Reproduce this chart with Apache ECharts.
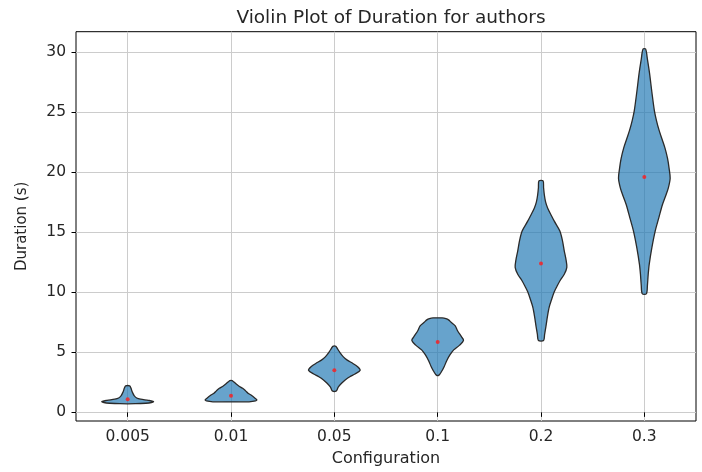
<!DOCTYPE html>
<html><head><meta charset="utf-8">
<script src="https://cdn.jsdelivr.net/npm/echarts@6/dist/echarts.min.js"></script>
<style>html,body{margin:0;padding:0;background:#fff}#c{width:702px;height:472px}</style>
</head><body><div id="c"></div>
<script>
const categories = ['0.005', '0.01', '0.05', '0.1', '0.2', '0.3'];
const medians = [1.1, 1.38, 3.5, 5.85, 12.4, 19.6];
const yTicks = [0, 5, 10, 15, 20, 25, 30];
// density profiles: [duration, relative half-width]
const profile0005 = [[0.72,0.3],[0.76,0.7],[0.82,0.92],[0.9,1.0],[1.0,0.8],[1.1,0.5],[1.2,0.35],[1.4,0.25],[1.6,0.2],[1.8,0.16],[2.0,0.13],[2.2,0.08]];
const profile001 = [[0.88,0.7],[0.95,0.95],[1.05,1.0],[1.2,0.92],[1.4,0.8],[1.6,0.66],[1.8,0.56],[2.0,0.45],[2.2,0.3],[2.4,0.18],[2.55,0.1],[2.65,0.04]];
const profile005 = [[1.79,0.08],[2.1,0.15],[2.42,0.28],[2.7,0.42],[2.97,0.6],[3.2,0.8],[3.5,1.0],[3.8,0.9],[4.07,0.72],[4.35,0.5],[4.62,0.35],[5.03,0.2],[5.3,0.12],[5.5,0.06]];
const profile01 = [[3.1,0.05],[3.4,0.15],[3.8,0.25],[4.3,0.35],[4.8,0.48],[5.2,0.62],[5.6,0.85],[6.0,1.0],[6.3,0.92],[6.8,0.77],[7.2,0.68],[7.5,0.52],[7.7,0.42],[7.8,0.32],[7.86,0.18]];
const profile02 = [[5.99,0.1],[6.5,0.14],[7.14,0.19],[8.0,0.25],[8.78,0.32],[9.4,0.41],[10.02,0.51],[10.5,0.62],[10.98,0.74],[11.5,0.9],[12.08,1.0],[12.7,0.97],[13.45,0.9],[14.3,0.83],[15.1,0.73],[15.9,0.52],[16.4,0.4],[17.0,0.26],[17.5,0.18],[18.1,0.13],[18.7,0.1],[19.27,0.08]];
const profile03 = [[9.88,0.08],[10.6,0.12],[11.5,0.15],[12.35,0.19],[13.7,0.29],[15.1,0.42],[16.2,0.56],[17.29,0.7],[18.0,0.82],[18.7,0.93],[19.49,1.0],[20.3,0.96],[21.13,0.9],[22.0,0.8],[22.78,0.68],[23.5,0.57],[24.3,0.47],[25.11,0.39],[26.7,0.29],[28.27,0.2],[29.4,0.12],[30.25,0.05]];
const profiles = [profile0005, profile001, profile005, profile01, profile02, profile03];

const positions = categories.map((c, i) => i + 1);
const HALF = 0.25;

const chart = echarts.init(document.getElementById('c'));
const textColor = '#262626';
chart.setOption({
  animation: false,
  title: {
    text: 'Violin Plot of Duration for authors',
    left: 386, top: 4, textAlign: 'center',
    textStyle: {fontFamily: 'DejaVu Sans', fontSize: 18.5, fontWeight: 'normal', color: textColor}
  },
  grid: {left: 76, right: 6, top: 31.7, bottom: 46.5, show: true, borderColor: '#000', borderWidth: 1, backgroundColor: 'transparent'},
  xAxis: {
    type: 'value', min: 0.5, max: 6.5,
    name: 'Configuration', nameLocation: 'middle', nameGap: 30,
    nameTextStyle: {fontFamily: 'DejaVu Sans', fontSize: 16, color: textColor},
    axisLine: {show: false},
    axisTick: {show: true, customValues: positions, length: 4.5, lineStyle: {color: '#000'}},
    axisLabel: {customValues: positions, margin: 8, fontFamily: 'DejaVu Sans', fontSize: 15.5, color: textColor,
      formatter: v => categories[Math.round(v) - 1] || ''},
    splitLine: {show: true, lineStyle: {color: '#cccccc', width: 1}}
  },
  yAxis: {
    type: 'value', min: -0.72, max: 31.7,
    name: 'Duration (s)', nameLocation: 'middle', nameGap: 46,
    nameTextStyle: {fontFamily: 'DejaVu Sans', fontSize: 15, color: textColor},
    axisLine: {show: false},
    axisTick: {show: true, customValues: yTicks, length: 4.5, lineStyle: {color: '#000'}},
    axisLabel: {customValues: yTicks, margin: 10, fontFamily: 'DejaVu Sans', fontSize: 15.5, color: textColor},
    splitLine: {show: true, lineStyle: {color: '#cccccc', width: 1}}
  },
  series: [
    {
      type: 'custom',
      data: positions.map((p, i) => [p, medians[i]]),
      renderItem: function (params, api) {
        const i = params.dataIndex;
        const pos = positions[i];
        const prof = profiles[i];
        const pts = [];
        for (let k = 0; k < prof.length; k++) pts.push(api.coord([pos + prof[k][1] * HALF, prof[k][0]]));
        for (let k = prof.length - 1; k >= 0; k--) pts.push(api.coord([pos - prof[k][1] * HALF, prof[k][0]]));
        return {
          type: 'polygon',
          shape: {points: pts, smooth: 0.3},
          style: {fill: 'rgba(31,119,180,0.68)', stroke: '#2a2a2a', lineWidth: 1.3}
        };
      },
      z: 3
    },
    {
      type: 'scatter',
      data: positions.map((p, i) => [p, medians[i]]),
      symbolSize: 4,
      itemStyle: {color: '#ff1a1a'},
      z: 4
    }
  ]
});
</script></body></html>
